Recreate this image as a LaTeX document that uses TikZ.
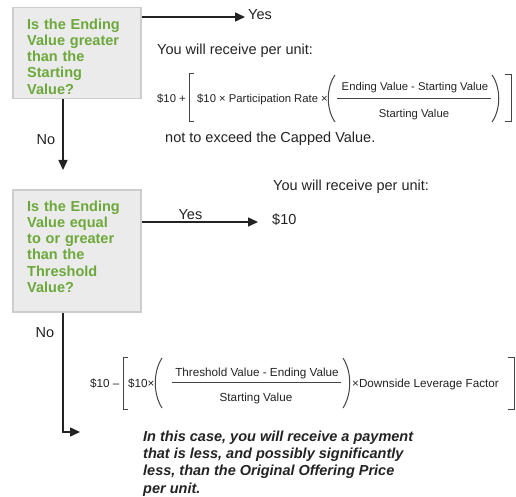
\documentclass[tikz,border=0pt]{standalone}
\usepackage{fontspec}
\setmainfont{Liberation Sans}
\usetikzlibrary{arrows.meta,calc}
\definecolor{qgreen}{RGB}{108,168,58}
\definecolor{qfill}{RGB}{235,235,235}
\definecolor{qborder}{RGB}{205,205,205}
\definecolor{ink}{RGB}{35,35,35}
\begin{document}
\begin{tikzpicture}[x=1pt,y=-1pt,
  qbox/.style={draw=qborder, fill=qfill, line width=1.5pt, minimum width=128pt, anchor=north west, inner sep=0},
  qtext/.style={text=qgreen, font=\fontsize{14.5}{16.2}\selectfont\bfseries, align=left, anchor=north west, inner sep=0, text width=115pt},
  lbl/.style={text=ink, font=\fontsize{14.5}{17}\selectfont, inner sep=0, anchor=mid west},
  frm/.style={text=ink, font=\fontsize{11.3}{13}\selectfont, inner sep=0},
  frmb/.style={text=ink, font=\fontsize{11.7}{13}\selectfont, inner sep=0},
  arr/.style={draw=ink, line width=1.5pt, -{Triangle[length=10pt,width=9pt]}},
  delim/.style={draw=ink!85, line width=1pt},
  ]
\useasboundingbox (0,0) rectangle (516,497);

% question boxes
\node[qbox, minimum height=91pt] (q1) at (12,7) {};
\node[qtext] (q1t) at (27,18.6) {Is the Ending\\Value greater\\than the\\Starting\\Value?};
\node[qbox, minimum height=122pt] (q2) at (12,189) {};
\node[qtext] (q2t) at (27,200.6) {Is the Ending\\Value equal\\to or greater\\than the\\Threshold\\Value?};

% first Yes branch
\coordinate (t1) at (245,17);
\node[lbl] (yes1) at (248,17) {Yes};
\draw[arr] (q1.east |- t1) -- (t1);
\node[lbl] (recv1) at (157,52) {You will receive per unit:};
\node[frm, anchor=mid west] (f1a) at (157,100) {\$10 +};
\draw[delim] (194,74) -- (189,74) -- (189,122) -- (194,122);
\node[frm, anchor=mid west] (f1b) at (197,100) {\$10 × Participation Rate ×};
\draw[delim] (335,75) .. controls (326,88) and (326,109) .. (335,122);
\node[frm] (n1) at (415,88) {Ending Value - Starting Value};
\draw[delim, line width=0.8pt] (337,98) -- (491,98);
\node[frm] (dn1) at (414,115) {Starting Value};
\draw[delim] (492,75) .. controls (501,88) and (501,109) .. (492,122);
\draw[delim] (505,75) -- (511,75) -- (511,122) -- (505,122);
\node[lbl] (cap) at (165,140) {not to exceed the Capped Value.};

% first No branch
\coordinate (a1) at (63,170);
\draw[arr] (a1 |- q1.south) -- (a1);
\node[lbl, anchor=center] (no1) at (46,140) {No};

% second Yes branch
\coordinate (t2) at (258,222);
\draw[arr] (q2.east |- t2) -- (t2) node[lbl, pos=0.42, above=1.5pt] (yes2) {Yes};
\node[lbl] (recv2) at (273,188) {You will receive per unit:};
\node[lbl] (ten) at (272,222) {\$10};

% second No branch
\coordinate (t3) at (80,432);
\draw[arr] (a1 |- q2.south) |- (t3);
\node[lbl, anchor=center] (no2) at (45,333) {No};

% downside formula
\node[frmb, anchor=mid west] (f2a) at (90,385) {\$10 –};
\draw[delim] (128,357) -- (123,357) -- (123,409) -- (128,409);
\node[frmb, anchor=mid west] (f2b) at (128,385) {\$10×};
\draw[delim] (162,358) .. controls (153,372) and (153,394) .. (162,408);
\node[frmb] (n2) at (257,373) {Threshold Value - Ending Value};
\draw[delim, line width=0.8pt] (172,382) -- (341,382);
\node[frmb] (dn2) at (256,398) {Starting Value};
\draw[delim] (343,358) .. controls (352,372) and (352,394) .. (343,408);
\node[frmb, anchor=mid west] (f2c) at (352,385) {×Downside Leverage Factor};
\draw[delim] (508,357) -- (514,357) -- (514,409) -- (508,409);

\node[font=\fontsize{14.5}{17.3}\selectfont\bfseries\itshape, text=ink, align=left, anchor=north west, inner sep=0] (note) at (143,430.6) {In this case, you will receive a payment\\that is less, and possibly significantly\\less, than the Original Offering Price\\per unit.};
\end{tikzpicture}
\end{document}
